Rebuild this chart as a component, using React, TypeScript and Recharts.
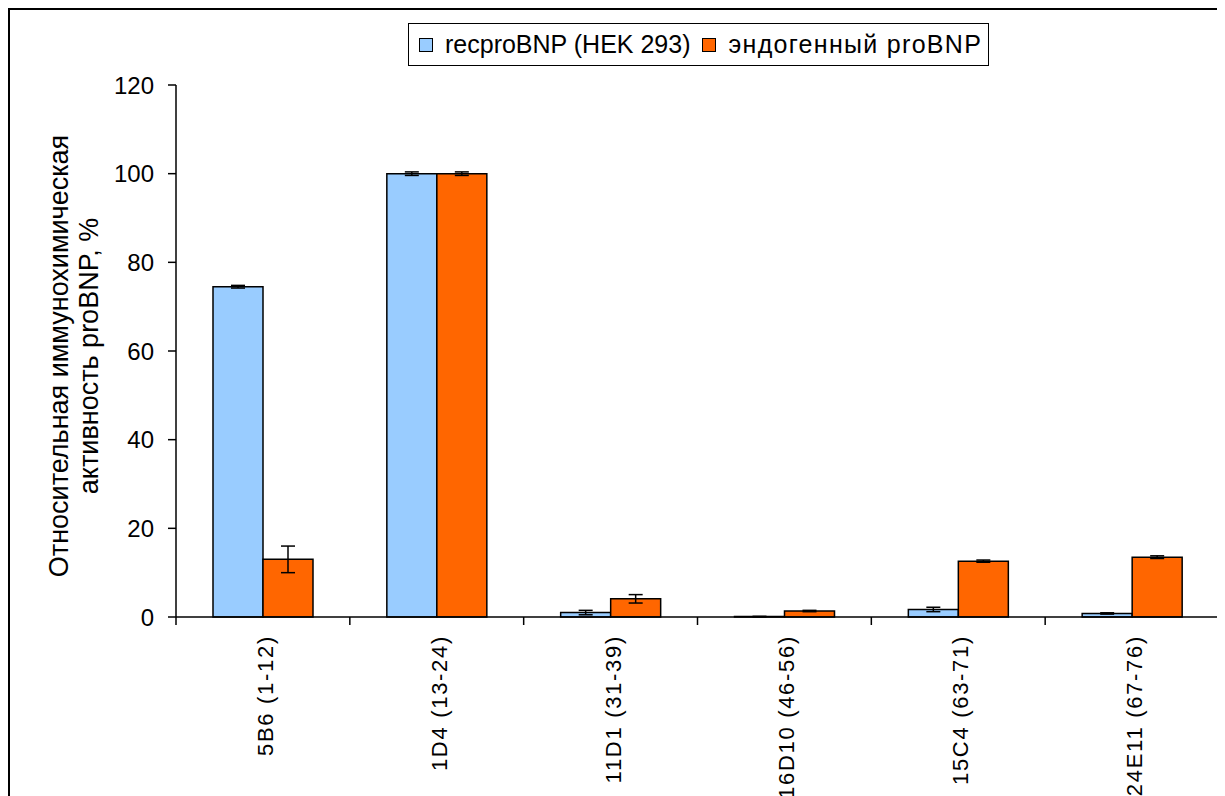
import { BarChart, Bar, XAxis, YAxis, ErrorBar, Legend } from "recharts";

const categories = [
  "5B6 (1-12)",
  "1D4 (13-24)",
  "11D1 (31-39)",
  "16D10 (46-56)",
  "15C4 (63-71)",
  "24E11 (67-76)",
];
const recValues = [74.5, 100, 1.0, 0.1, 1.7, 0.8];
const recErrors = [0.3, 0.4, 0.5, 0.05, 0.5, 0.15];
const endoValues = [13, 100, 4.1, 1.35, 12.6, 13.5];
const endoErrors = [3, 0.4, 0.95, 0.15, 0.25, 0.3];
const yTicks = [0, 20, 40, 60, 80, 100, 120];

const data = categories.map((name, i) => ({
  name,
  rec: recValues[i],
  recErr: recErrors[i],
  endo: endoValues[i],
  endoErr: endoErrors[i],
}));

const FONT = '"Liberation Sans", Arial, sans-serif';
const CHART_W = 1212;
const CHART_H = 800;
const MARGIN = { top: 75, right: 3, left: 106, bottom: 0 };
const Y_AXIS_W = 60;
const X_AXIS_H = 193;
const BAND = (CHART_W - MARGIN.left - MARGIN.right - Y_AXIS_W) / categories.length;

// category label plus the tick marks that sit between categories
function CategoryTick(props: any) {
  const { x, y, payload, index } = props;
  const last = index === categories.length - 1;
  const tx = x + 10;
  const ty = y + 18;
  return (
    <g>
      <line x1={x - BAND / 2} y1={y} x2={x - BAND / 2} y2={y + 8} stroke="#000" strokeWidth={1.5} />
      {last && (
        <line x1={x + BAND / 2} y1={y} x2={x + BAND / 2} y2={y + 8} stroke="#000" strokeWidth={1.5} />
      )}
      <text
        x={tx}
        y={ty}
        transform={`rotate(-90, ${tx}, ${ty})`}
        textAnchor="end"
        fontFamily={FONT}
        fontSize={22}
        letterSpacing={1.7}
        fill="#000"
      >
        {payload.value}
      </text>
    </g>
  );
}

function YLabel(props: any) {
  const { viewBox } = props;
  const cy = viewBox.y + viewBox.height / 2 + 5;
  // two-line rotated title
  const x1 = 58;
  const x2 = 88;
  return (
    <g fontFamily={FONT} fontSize={27} fill="#000" textAnchor="middle">
      <text x={x1} y={cy} transform={`rotate(-90, ${x1}, ${cy})`}>
        Относительная иммунохимическая
      </text>
      <text x={x2} y={cy} transform={`rotate(-90, ${x2}, ${cy})`}>
        активность proBNP, %
      </text>
    </g>
  );
}

function LegendBox() {
  const items = [
    { label: "recproBNP (HEK 293)", color: "#99CCFF", spacing: 0 },
    { label: "эндогенный proBNP", color: "#FF6600", spacing: 1.3 },
  ];
  return (
    <div
      style={{
        display: "flex",
        alignItems: "center",
        gap: 12,
        height: 41,
        border: "1.5px solid #000",
        padding: "0 6px 0 10px",
        fontFamily: FONT,
        fontSize: 25,
        background: "#fff",
        whiteSpace: "nowrap",
      }}
    >
      {items.map((it) => (
        <div key={it.label} style={{ display: "flex", alignItems: "center", gap: 12 }}>
          <span
            style={{
              width: 12,
              height: 12,
              background: it.color,
              border: "1.5px solid #000",
              display: "inline-block",
            }}
          />
          <span style={{ letterSpacing: it.spacing }}>{it.label}</span>
        </div>
      ))}
    </div>
  );
}

export default function App() {
  return (
    <div style={{ width: CHART_W, height: CHART_H, border: "2px solid #000", background: "#fff" }}>
      <BarChart
        width={CHART_W}
        height={CHART_H}
        data={data}
        margin={MARGIN}
        barGap={0}
        barCategoryGap={37}
      >
        <XAxis
          dataKey="name"
          height={X_AXIS_H}
          interval={0}
          tickLine={false}
          tickSize={0}
          tickMargin={0}
          axisLine={{ stroke: "#000", strokeWidth: 1.5 }}
          tick={<CategoryTick />}
        />
        <YAxis
          width={Y_AXIS_W}
          domain={[0, 120]}
          ticks={yTicks}
          interval={0}
          tickSize={8}
          tickMargin={14}
          axisLine={{ stroke: "#000", strokeWidth: 1.5 }}
          tickLine={{ stroke: "#000", strokeWidth: 1.5 }}
          tick={{ fill: "#000", fontSize: 24, fontFamily: FONT }}
          label={<YLabel />}
        />
        <Legend
          verticalAlign="middle"
          align="center"
          content={<LegendBox />}
          wrapperStyle={{ top: 13, left: 398, width: "auto" }}
        />
        <Bar dataKey="rec" fill="#99CCFF" stroke="#000" strokeWidth={1.5} isAnimationActive={false}>
          <ErrorBar dataKey="recErr" width={7} stroke="#000" strokeWidth={1.5} />
        </Bar>
        <Bar dataKey="endo" fill="#FF6600" stroke="#000" strokeWidth={1.5} isAnimationActive={false}>
          <ErrorBar dataKey="endoErr" width={7} stroke="#000" strokeWidth={1.5} />
        </Bar>
      </BarChart>
    </div>
  );
}
